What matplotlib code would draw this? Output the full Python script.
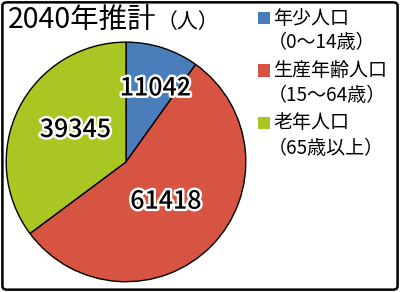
import numpy as np
import matplotlib
matplotlib.use("Agg")
import matplotlib.pyplot as plt
import matplotlib.patheffects as pe
from matplotlib.patches import FancyBboxPatch, Rectangle

plt.rcParams['font.family'] = ['Noto Sans CJK JP', 'DejaVu Sans']

# data
title = "2040年推計"
unit = "（人）"
groups = ["年少人口", "生産年齢人口", "老年人口"]
ranges = ["（0〜14歳）", "（15〜64歳）", "（65歳以上）"]
values = [11042, 61418, 39345]
colors = ["#4a7ebb", "#d65441", "#a9c622"]

# label placement (radius, angle shift in degrees)
lab_r = [0.66, 0.47, 0.50]
lab_shift = [-4, -0.5, -5.5]

fig = plt.figure(figsize=(4.0, 2.92), dpi=100)

# rounded frame
frame = FancyBboxPatch((0.006, 0.008), 0.988, 0.984,
                       boxstyle="round,pad=0,rounding_size=0.012",
                       transform=fig.transFigure, fill=False,
                       edgecolor="black", linewidth=1.8)
fig.patches.append(frame)

ax = fig.add_axes([0.0125, 0.031, 0.605, 0.829])
wedges, _ = ax.pie(values, colors=colors, startangle=90, counterclock=False,
                   wedgeprops=dict(edgecolor="black", linewidth=1.0))
ax.set_xlim(-1.01, 1.01)
ax.set_ylim(-1.01, 1.01)
ax.set_aspect("equal")
ax.axis("off")

for w, v, r, s in zip(wedges, values, lab_r, lab_shift):
    mid = np.deg2rad((w.theta1 + w.theta2) / 2.0 + s)
    ax.text(r * np.cos(mid), r * np.sin(mid), str(v), ha="center", va="center",
            fontsize=18, color="black", fontweight="medium",
            path_effects=[pe.withStroke(linewidth=3.5, foreground="white")])

# title
fig.text(0.02, 0.93, title, fontsize=20.5, ha="left", va="center")
fig.text(0.392, 0.925, unit, fontsize=15, ha="left", va="center")

# legend
y0 = 292 - 18
for i, (g, rg, c) in enumerate(zip(groups, ranges, colors)):
    yg = (y0 - i * 52.5) / 292
    yr = (y0 - 25 - i * 52.5) / 292
    fig.patches.append(Rectangle((258 / 400, yg - 6 / 292), 12 / 400, 12 / 292,
                                 transform=fig.transFigure, facecolor=c,
                                 edgecolor="none"))
    fig.text(273 / 400, yg, g, fontsize=13.7, ha="left", va="center")
    fig.text(268 / 400, yr, rg, fontsize=13.7, ha="left", va="center")

fig.savefig("out.png", dpi=100)
